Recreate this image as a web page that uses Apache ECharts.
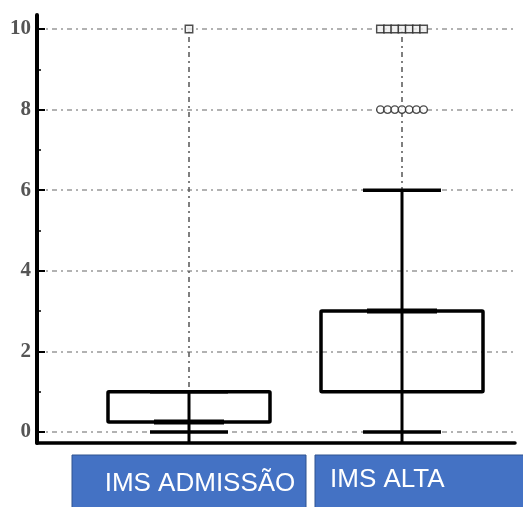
<!DOCTYPE html>
<html>
<head>
<meta charset="utf-8">
<script src="https://cdn.jsdelivr.net/npm/echarts@6/dist/echarts.min.js"></script>
<style>
  html, body { margin: 0; padding: 0; background: #fff; }
  #main { width: 523px; height: 507px; }
</style>
</head>
<body>
<div id="main"></div>
<script>
var categories = ['IMS ADMISSÃO', 'IMS ALTA'];
var whiskerLow = [0, 0];
var q1Values = [0.25, 1];
var medianValues = [0.25, 3];
var q3Values = [1, 3];
var whiskerHigh = [1, 6];
// squares = extreme outliers, circles = outliers
var extremeOutliers = [[10], [10, 10, 10, 10, 10, 10, 10]];
var mildOutliers = [[], [8, 8, 8, 8, 8, 8, 8]];
var yTicks = [0, 2, 4, 6, 8, 10];

var dom = document.getElementById('main');
var myChart = echarts.init(dom);

var boxData = categories.map(function (c, i) {
    return [i + 1, whiskerLow[i], q1Values[i], medianValues[i], q3Values[i], whiskerHigh[i]];
});

function outlierPoints(list) {
    var pts = [];
    list.forEach(function (vals, i) {
        vals.forEach(function (v, j) {
            pts.push({
                value: [i + 1, v],
                symbolOffset: [(j - (vals.length - 1) / 2) * 7.2, 0]
            });
        });
    });
    return pts;
}

function renderBox(params, api) {
    var x = api.value(0);
    var lo = api.coord([x, api.value(1)]);
    var b1 = api.coord([x, api.value(2)]);
    var md = api.coord([x, api.value(3)]);
    var b3 = api.coord([x, api.value(4)]);
    var hi = api.coord([x, api.value(5)]);
    var cx = lo[0];
    var bottom = params.coordSys.y + params.coordSys.height + 11;
    return {
        type: 'group',
        children: [
            { type: 'line', shape: { x1: cx, y1: hi[1], x2: cx, y2: bottom }, style: { stroke: '#000', lineWidth: 3 } },
            { type: 'line', shape: { x1: cx - 39, y1: hi[1], x2: cx + 39, y2: hi[1] }, style: { stroke: '#000', lineWidth: 3.5 } },
            { type: 'line', shape: { x1: cx - 39, y1: lo[1], x2: cx + 39, y2: lo[1] }, style: { stroke: '#000', lineWidth: 3.5 } },
            { type: 'rect', shape: { x: cx - 81, y: b3[1], width: 162, height: b1[1] - b3[1], r: 1 },
              style: { fill: 'none', stroke: '#000', lineWidth: 3.5 } },
            { type: 'line', shape: { x1: cx - 35, y1: md[1], x2: cx + 35, y2: md[1] }, style: { stroke: '#000', lineWidth: 5 } }
        ]
    };
}

var dashDot = [5, 4, 2, 4];

option = {
    animation: false,
    backgroundColor: '#fff',
    grid: [
        { left: 37, right: 8, top: 15, bottom: 64 },
        { left: 37, right: 8, top: 29, bottom: 75 }
    ],
    xAxis: [
        {
            gridIndex: 0, type: 'value', min: 0, max: 1,
            axisLine: { show: true, lineStyle: { color: '#000', width: 3.5 } },
            axisTick: { show: false }, axisLabel: { show: false }, splitLine: { show: false }
        },
        {
            gridIndex: 1, type: 'value', min: 0.2864, max: 2.5305,
            axisLine: { show: false }, axisTick: { show: false },
            axisLabel: { show: false }, splitLine: { show: false }
        }
    ],
    yAxis: [
        {
            gridIndex: 0, type: 'value', min: 0, max: 1,
            axisLine: { show: true, lineStyle: { color: '#000', width: 4 } },
            axisTick: { show: false }, axisLabel: { show: false }, splitLine: { show: false }
        },
        {
            gridIndex: 1, type: 'value',
            min: yTicks[0], max: yTicks[yTicks.length - 1], interval: yTicks[1] - yTicks[0],
            axisLine: { show: false },
            axisTick: { show: true, inside: true, length: 8, lineStyle: { color: '#000', width: 2 } },
            minorTick: { show: true, splitNumber: 2, length: 4, lineStyle: { color: '#000', width: 1.5 } },
            axisLabel: {
                margin: 6,
                color: '#555',
                fontFamily: 'Liberation Serif',
                fontWeight: 'bold',
                fontSize: 21
            },
            splitLine: { show: true, lineStyle: { color: '#999', width: 1.5, type: dashDot } }
        }
    ],
    series: [
        {
            type: 'line',
            xAxisIndex: 1, yAxisIndex: 1,
            data: [],
            z: 1,
            silent: true,
            markLine: {
                z: 1,
                symbol: 'none',
                silent: true,
                label: { show: false },
                lineStyle: { color: '#555', width: 1.5, type: dashDot },
                data: categories.map(function (c, i) {
                    return [{ coord: [i + 1, yTicks[0]] }, { coord: [i + 1, yTicks[yTicks.length - 1]] }];
                })
            }
        },
        {
            type: 'custom',
            xAxisIndex: 1, yAxisIndex: 1,
            renderItem: renderBox,
            encode: { x: 0, y: [1, 2, 3, 4, 5] },
            data: boxData,
            z: 3
        },
        {
            type: 'scatter',
            xAxisIndex: 1, yAxisIndex: 1,
            symbol: 'rect',
            symbolSize: 7.5,
            clip: false,
            itemStyle: { color: '#eee', borderColor: '#222', borderWidth: 1.4 },
            data: outlierPoints(extremeOutliers),
            z: 4
        },
        {
            type: 'scatter',
            xAxisIndex: 1, yAxisIndex: 1,
            symbol: 'circle',
            symbolSize: 7.5,
            clip: false,
            itemStyle: { color: '#fff', borderColor: '#222', borderWidth: 1.4 },
            data: outlierPoints(mildOutliers),
            z: 4
        }
    ],
    graphic: [
        { type: 'rect', shape: { x: 72, y: 455, width: 234, height: 60 },
          style: { fill: '#4472C4', stroke: '#2F528F', lineWidth: 1 } },
        { type: 'rect', shape: { x: 315, y: 455, width: 215, height: 60 },
          style: { fill: '#4472C4', stroke: '#2F528F', lineWidth: 1 } },
        { type: 'text', x: 200, y: 484,
          style: { text: categories[0], fill: '#fff', font: '26px "Liberation Sans"', textAlign: 'center', textVerticalAlign: 'middle' } },
        { type: 'text', x: 330, y: 480,
          style: { text: categories[1], fill: '#fff', font: '26px "Liberation Sans"', textAlign: 'left', textVerticalAlign: 'middle' } }
    ]
};

if (option && typeof option === "object") {
    myChart.setOption(option, true);
}
window.addEventListener("resize", function () {
    myChart.resize();
});
</script>
</body>
</html>
